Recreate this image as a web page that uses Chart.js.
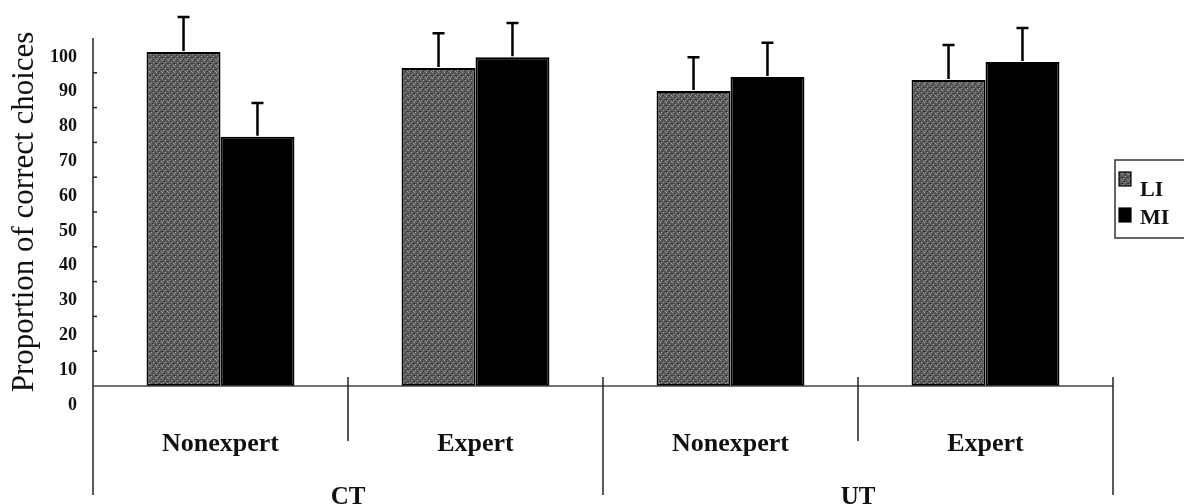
<!DOCTYPE html>
<html>
<head>
<meta charset="utf-8">
<script src="https://cdn.jsdelivr.net/npm/chart.js@4.4.1/dist/chart.umd.min.js"></script>
<style>
  html, body { margin: 0; padding: 0; background: #fff; }
  #wrap { width: 1184px; height: 504px; }
</style>
</head>
<body>
<div id="wrap"><canvas id="c" width="1184" height="504"></canvas></div>
<script>
// Categories along the x axis and the two groups they belong to
const categories = ['Nonexpert', 'Expert', 'Nonexpert', 'Expert'];
const groups = ['CT', 'UT'];          // each group spans two categories
const seriesNames = ['LI', 'MI'];

// Mean proportion of correct choices (%) and error (upper whisker length)
const liValues = [96, 91.4, 84.8, 87.9];
const miValues = [71.6, 94.5, 88.8, 93.1];
const liErrors = [10, 10, 9.7, 10.1];
const miErrors = [9.7, 9.8, 9.8, 9.8];

// Y axis ticks
const yTicks = [0, 10, 20, 30, 40, 50, 60, 70, 80, 90, 100];

const SERIF = "'Liberation Serif', 'Times New Roman', serif";
const INK = '#111';

// Grey stipple fill for the LI bars
function stipple() {
  const c = document.createElement('canvas');
  c.width = 6; c.height = 6;
  const g = c.getContext('2d');
  g.fillStyle = '#5c5c5c';
  g.fillRect(0, 0, 6, 6);
  g.fillStyle = '#a2a2a2';
  [[0, 0], [3, 2], [1, 4], [5, 5]].forEach(p => g.fillRect(p[0], p[1], 1, 1));
  g.fillStyle = '#303030';
  [[2, 1], [5, 3], [0, 3], [3, 5]].forEach(p => g.fillRect(p[0], p[1], 1, 1));
  return g.createPattern(c, 'repeat');
}
const liFill = stipple();

const framePlugin = {
  id: 'frame',
  afterDatasetsDraw(chart) {
    const { ctx, scales: { y } } = chart;
    ctx.save();
    ctx.strokeStyle = '#000';
    ctx.lineWidth = 2.5;
    chart.data.datasets.forEach((ds, di) => {
      chart.getDatasetMeta(di).data.forEach((bar, i) => {
        const top = y.getPixelForValue(ds.data[i] + ds.errors[i]);
        ctx.beginPath();
        ctx.moveTo(bar.x, bar.y - 1);
        ctx.lineTo(bar.x, top);
        ctx.moveTo(bar.x - 6, top);
        ctx.lineTo(bar.x + 6, top);
        ctx.stroke();
      });
    });
    ctx.restore();
  },
  afterDraw(chart) {
    const { ctx, chartArea: a, scales: { x, y } } = chart;
    ctx.save();
    // y axis line, running down through the category label band
    ctx.strokeStyle = '#222';
    ctx.lineWidth = 1.5;
    ctx.beginPath();
    ctx.moveTo(a.left, a.top);
    ctx.lineTo(a.left, 495);
    ctx.stroke();
    // small inward ticks
    yTicks.slice(1, -1).forEach(v => {
      const py = y.getPixelForValue(v);
      ctx.beginPath();
      ctx.moveTo(a.left, py);
      ctx.lineTo(a.left + 4, py);
      ctx.stroke();
    });
    // x axis line
    ctx.strokeStyle = '#444';
    ctx.beginPath();
    ctx.moveTo(a.left, a.bottom);
    ctx.lineTo(a.right, a.bottom);
    ctx.stroke();
    // category separators
    ctx.strokeStyle = '#222';
    const n = categories.length;
    for (let i = 1; i <= n; i++) {
      const bx = i === n ? a.right
        : (x.getPixelForValue(i - 1) + x.getPixelForValue(i)) / 2;
      const groupEdge = i % 2 === 0;
      ctx.beginPath();
      ctx.moveTo(bx, a.bottom - 9);
      ctx.lineTo(bx, groupEdge ? 495 : 441);
      ctx.stroke();
    }
    // group labels
    ctx.fillStyle = INK;
    ctx.font = 'bold 25px ' + SERIF;
    ctx.textAlign = 'center';
    ctx.textBaseline = 'middle';
    groups.forEach((g, gi) => {
      const l = gi === 0 ? a.left : (x.getPixelForValue(gi * 2 - 1) + x.getPixelForValue(gi * 2)) / 2;
      const r = gi === groups.length - 1 ? a.right
        : (x.getPixelForValue(gi * 2 + 1) + x.getPixelForValue(gi * 2 + 2)) / 2;
      ctx.fillText(g, (l + r) / 2, 498);
    });
    // legend
    ctx.strokeStyle = '#333';
    ctx.lineWidth = 1.5;
    ctx.strokeRect(1115, 160, 100, 78);
    ctx.font = 'bold 22px ' + SERIF;
    ctx.textAlign = 'left';
    ctx.textBaseline = 'alphabetic';
    chart.data.datasets.forEach((ds, di) => {
      const sy = di === 0 ? 172 : 208;
      ctx.fillStyle = ds.backgroundColor;
      ctx.fillRect(1119, sy, 12, 14);
      ctx.strokeStyle = '#000';
      ctx.lineWidth = 1.2;
      ctx.strokeRect(1119, sy, 12, 14);
      ctx.fillStyle = INK;
      ctx.fillText(ds.label, 1140, di === 0 ? 196 : 224);
    });
    ctx.restore();
  }
};

new Chart(document.getElementById('c'), {
  type: 'bar',
  data: {
    labels: categories,
    datasets: [
      { label: seriesNames[0], data: liValues, errors: liErrors,
        backgroundColor: liFill, borderColor: '#000', borderWidth: 2, borderSkipped: false },
      { label: seriesNames[1], data: miValues, errors: miErrors,
        backgroundColor: '#000', borderColor: '#000', borderWidth: 2, borderSkipped: false }
    ]
  },
  options: {
    responsive: false,
    animation: false,
    events: [],
    layout: { padding: { top: 38, right: 71, bottom: 0, left: 0 } },
    datasets: { bar: { categoryPercentage: 0.58, barPercentage: 1 } },
    plugins: { legend: { display: false }, tooltip: { enabled: false } },
    scales: {
      x: {
        grid: { display: false, drawTicks: false },
        border: { display: false },
        ticks: { color: INK, font: { family: SERIF, size: 26, weight: 'bold' }, padding: 43, maxRotation: 0 },
        afterFit(s) { s.height = 118; }
      },
      y: {
        min: 0, max: 100,
        afterBuildTicks(s) { s.ticks = yTicks.map(v => ({ value: v })); },
        grid: { display: false, drawTicks: false },
        border: { display: false },
        ticks: { color: INK, font: { family: SERIF, size: 18, weight: 'bold' }, padding: 16, labelOffset: 19 },
        title: { display: true, text: 'Proportion of correct choices', color: INK,
                 font: { family: SERIF, size: 31 }, padding: { top: 6, bottom: 0 } },
        afterFit(s) { s.width = 93; }
      }
    }
  },
  plugins: [framePlugin]
});
</script>
</body>
</html>
